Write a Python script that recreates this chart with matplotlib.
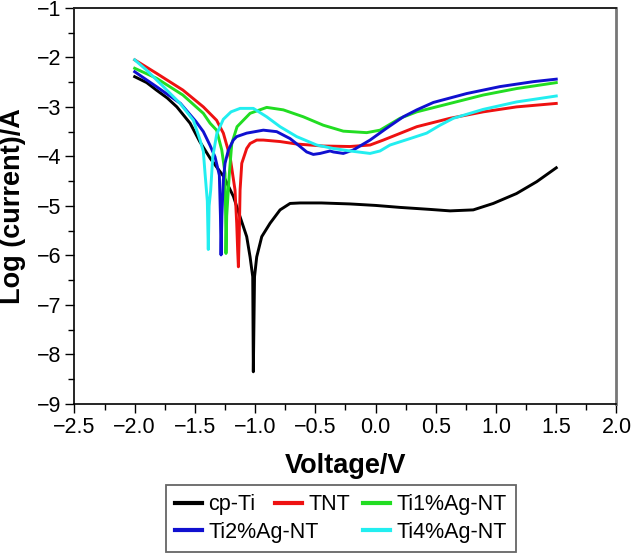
import matplotlib
matplotlib.use("Agg")
import matplotlib.pyplot as plt
from matplotlib.lines import Line2D
from matplotlib.ticker import MultipleLocator

plt.rcParams['font.family'] = ['Liberation Sans', 'DejaVu Sans']

# ---- data ----
cp_x = [-2.0, -1.9, -1.82, -1.73, -1.65, -1.54, -1.46, -1.37, -1.26, -1.18, -1.125, -1.07,
        -1.042, -1.02, -1.015, -1.005, -0.987, -0.945, -0.876, -0.793, -0.71, -0.627, -0.45,
        -0.212, 0.0, 0.203, 0.45, 0.618, 0.811, 0.977, 1.17, 1.338, 1.5]
cp_y = [-2.39, -2.51, -2.66, -2.82, -3.0, -3.33, -3.70, -4.05, -4.41, -4.81, -5.22, -5.62,
        -6.03, -6.43, -8.35, -6.43, -6.03, -5.62, -5.35, -5.08, -4.95, -4.94, -4.94,
        -4.96, -4.99, -5.03, -5.07, -5.10, -5.08, -4.95, -4.75, -4.51, -4.23]

tnt_x = [-2.0, -1.82, -1.6, -1.43, -1.32, -1.264, -1.208, -1.167, -1.153, -1.145, -1.139,
         -1.132, -1.125, -1.111, -1.07, -1.042, -0.987, -0.932, -0.793, -0.655, -0.434,
         -0.212, -0.046, 0.064, 0.342, 0.618, 0.894, 1.17, 1.5]
tnt_y = [-2.05, -2.32, -2.66, -3.0, -3.27, -3.53, -4.01, -4.68, -5.35, -5.9, -6.23,
         -5.6, -4.68, -4.14, -3.84, -3.74, -3.67, -3.67, -3.70, -3.75, -3.79,
         -3.80, -3.77, -3.67, -3.40, -3.23, -3.10, -3.0, -2.93]

ag1_x = [-2.0, -1.82, -1.6, -1.43, -1.374, -1.32, -1.277, -1.25, -1.245, -1.242, -1.236,
         -1.214, -1.194, -1.15, -1.042, -0.904, -0.766, -0.6, -0.434, -0.268, -0.074,
         0.037, 0.203, 0.342, 0.618, 0.894, 1.17, 1.5]
ag1_y = [-2.22, -2.42, -2.76, -3.13, -3.33, -3.47, -3.87, -4.34, -5.2, -5.96, -5.2,
         -4.34, -3.74, -3.40, -3.13, -3.01, -3.06, -3.20, -3.37, -3.49, -3.52,
         -3.47, -3.23, -3.10, -2.93, -2.76, -2.63, -2.51]

ag2_x = [-2.0, -1.82, -1.62, -1.49, -1.43, -1.374, -1.333, -1.297, -1.288, -1.283, -1.276,
         -1.264, -1.25, -1.222, -1.181, -1.153, -1.07, -0.932, -0.821, -0.71, -0.627,
         -0.572, -0.517, -0.461, -0.378, -0.351, -0.268, -0.185, -0.046, 0.092, 0.23,
         0.342, 0.48, 0.757, 1.033, 1.31, 1.5]
ag2_y = [-2.29, -2.59, -2.93, -3.30, -3.50, -3.78, -4.01, -4.38, -5.2, -5.99, -5.2,
         -4.48, -4.14, -3.87, -3.67, -3.60, -3.53, -3.47, -3.50, -3.64, -3.80,
         -3.91, -3.96, -3.94, -3.89, -3.91, -3.94, -3.87, -3.67, -3.43, -3.20,
         -3.06, -2.91, -2.73, -2.59, -2.49, -2.44]

ag4_x = [-2.0, -1.9, -1.762, -1.623, -1.513, -1.457, -1.43, -1.416, -1.397, -1.389, -1.382,
         -1.369, -1.352, -1.319, -1.264, -1.2, -1.125, -1.015, -0.904, -0.793, -0.655,
         -0.489, -0.351, -0.212, -0.046, 0.037, 0.12, 0.286, 0.424, 0.535, 0.646, 0.894,
         1.17, 1.5]
ag4_y = [-2.05, -2.26, -2.59, -2.93, -3.27, -3.67, -3.90, -4.34, -4.9, -5.88, -5.0,
         -4.68, -4.01, -3.55, -3.25, -3.10, -3.03, -3.03, -3.20, -3.40, -3.60,
         -3.77, -3.84, -3.89, -3.94, -3.89, -3.77, -3.64, -3.53, -3.37, -3.23, -3.05,
         -2.90, -2.78]

labels = ["cp-Ti", "TNT", "Ti1%Ag-NT", "Ti2%Ag-NT", "Ti4%Ag-NT"]
colors = ["#000000", "#ee1111", "#22dd22", "#1010d0", "#22eef0"]
series = [(cp_x, cp_y), (tnt_x, tnt_y), (ag1_x, ag1_y), (ag2_x, ag2_y), (ag4_x, ag4_y)]

xticks = [-2.5, -2.0, -1.5, -1.0, -0.5, 0.0, 0.5, 1.0, 1.5, 2.0]
yticks = [-9, -8, -7, -6, -5, -4, -3, -2, -1]

fig = plt.figure(figsize=(6.31, 5.54), dpi=100)
ax = fig.add_axes([0.118, 0.2708, 0.859, 0.715])

handles = {}
for (xs, ys), lab, c in zip(series, labels, colors):
    ln, = ax.plot(xs, ys, color=c, lw=2.1, label=lab, solid_joinstyle='round')
    handles[lab] = ln

ax.set_xlim(-2.5, 2.0)
ax.set_ylim(-9, -1)
ax.set_xticks(xticks)
ax.set_xticklabels([f"{t:.1f}".replace("-", "\u2212") for t in xticks])
ax.set_yticks(yticks)
ax.set_yticklabels([f"{t}".replace("-", "\u2212") for t in yticks])
ax.xaxis.set_minor_locator(MultipleLocator(0.25))
ax.yaxis.set_minor_locator(MultipleLocator(0.5))
ax.tick_params(which='major', direction='out', length=6.5, width=1.0, labelsize=15.5, pad=3)
ax.tick_params(which='minor', direction='out', length=4, width=1.0)
ax.tick_params(top=False, right=False, which='both')

for s in ['left', 'bottom']:
    ax.spines[s].set_linewidth(1.2)
ax.spines['top'].set_linewidth(1.4)
ax.spines['top'].set_color('#222222')
ax.spines['right'].set_linewidth(2.0)
ax.spines['right'].set_color('#777777')

ax.set_xlabel("Voltage/V", fontsize=19.5, fontweight='bold')
ax.set_ylabel("Log (current)/A", fontsize=19.5, fontweight='bold')
ax.xaxis.set_label_coords(0.5, -0.156)
ax.xaxis.label.set_va('center')
ax.yaxis.set_label_coords(-0.113, 0.5)
ax.yaxis.label.set_va('center')

blank = Line2D([], [], color='none')
leg_handles = [handles["cp-Ti"], handles["Ti2%Ag-NT"], handles["TNT"], blank,
               handles["Ti1%Ag-NT"], handles["Ti4%Ag-NT"]]
leg_labels = ["cp-Ti", "Ti2%Ag-NT", "TNT", "Ti2%Ag-N", "Ti1%Ag-NT", "Ti4%Ag-NT"]
leg = fig.legend(leg_handles, leg_labels, ncol=3, loc='upper center',
                 bbox_to_anchor=(0.540, 0.1245), bbox_transform=fig.transFigure,
                 fontsize=15.5, frameon=True, fancybox=False, edgecolor='#666666',
                 framealpha=1, handlelength=1.25, handletextpad=0.3,
                 columnspacing=-2.0, labelspacing=0.3, borderpad=0.42,
                 borderaxespad=0)
leg.get_frame().set_linewidth(1.3)
leg.get_texts()[3].set_color('none')
for lh in leg.get_lines():
    lh.set_linewidth(3)

fig.savefig("out.png", dpi=100)
